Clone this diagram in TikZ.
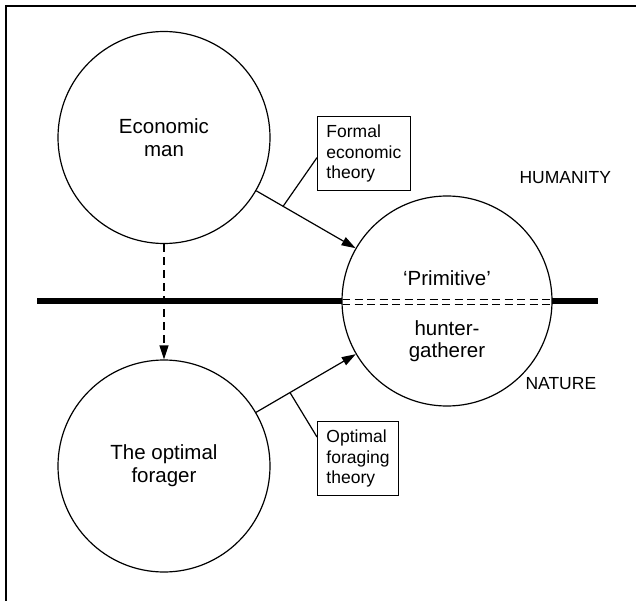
\documentclass[tikz,border=0pt]{standalone}
\usepackage{fontspec}
\setmainfont{Liberation Sans}
\usetikzlibrary{arrows.meta,calc}
\begin{document}
\begin{tikzpicture}[x=1pt,y=-1pt,
  circ/.style={circle,draw,line width=1.2pt,minimum size=212pt,inner sep=0pt,align=center,font=\fontsize{20.5}{23}\selectfont},
  tbox/.style={draw,line width=0.9pt,align=left,inner xsep=9pt,inner ysep=8.5pt,font=\fontsize{17.5}{20.5}\selectfont,anchor=north west},
  conn/.style={line width=1.2pt},
  arr/.style={conn,-{Triangle[length=14pt,width=9pt]}},
  lbl/.style={font=\fontsize{17.5}{20.5}\selectfont,anchor=base west},
  ctext/.style={font=\fontsize{20.5}{23}\selectfont,anchor=base}
]
\useasboundingbox (0,0) rectangle (636,601);
\draw[line width=2.3pt] (6.2,601) -- (6.2,6.2) -- (636,6.2);
\coordinate (L) at (37,301);
\coordinate (R) at (598,301);
\draw[line width=5.5pt] (L) -- (R);
\node[circ] (em) at (164,137.5) {Economic\\man};
\node[circ] (of) at (164,466) {The optimal\\forager};
\node[circ,fill=white,minimum size=210pt] (hg) at (447,301) {};
\begin{scope}
\clip (447,301) circle (104.5pt);
\draw[line width=0.9pt,dash pattern=on 8pt off 4.5pt] (342,299) -- (552,299) (342,304) -- (552,304);
\end{scope}
\node[ctext] (pr) at (447,285) {‘Primitive’};
\node[ctext] (hu) at (447,335) {hunter-};
\node[ctext] (ga) at (447,357) {gatherer};
\node[tbox] (fe) at (317,116) {Formal\\economic\\theory};
\node[tbox] (ot) at (317,421) {Optimal\\foraging\\theory};
\draw[arr] (em) -- coordinate[pos=0.27] (c1) (hg);
\draw[conn] (c1) -- ([yshift=-4pt]fe.west);
\draw[arr] (of) -- coordinate[pos=0.34] (c2) (hg);
\draw[conn] (c2) -- ([yshift=-16pt]ot.north west);
\draw[conn,dash pattern=on 8pt off 5pt,-{Triangle[length=14pt,width=9pt]}] (em) -- (of);
\node[lbl] (hum) at (516,184) {HUMANITY};
\node[lbl] (nat) at (522,389) {NATURE};
\end{tikzpicture}
\end{document}
